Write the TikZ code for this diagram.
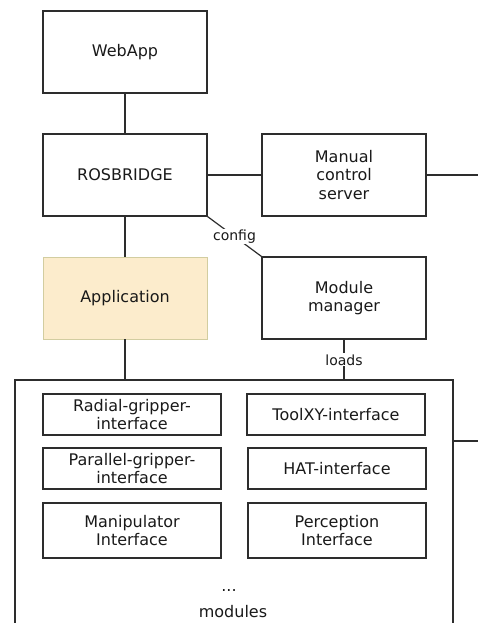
\documentclass[tikz,border=0pt]{standalone}
\usepackage{fontspec}
\setmainfont{DejaVu Sans}
\usepackage{tikz}
\usetikzlibrary{arrows.meta,positioning}
\definecolor{appfill}{RGB}{252,236,204}
\definecolor{appline}{RGB}{210,205,160}
\definecolor{linegray}{RGB}{45,45,45}

\begin{document}
\begin{tikzpicture}[x=1pt, y=-1pt,
    every node/.style={font=\fontsize{16}{18.5}\selectfont, text=black!90},
    box/.style={draw=linegray, line width=1.2pt, minimum width=164pt, minimum height=82pt, align=center},
    iface/.style={draw=linegray, line width=1.2pt, minimum width=178pt, minimum height=41pt, align=center},
    tag/.style={fill=white, inner sep=1pt, font=\fontsize{14}{16}\selectfont},
    wire/.style={draw=linegray, line width=1.2pt}]
            \useasboundingbox (0,0) rectangle (478,623);

            % Top row
            \node[box] (webapp) at (125,52) {WebApp};
            \node[box] (rosbridge) at (125,175) {ROSBRIDGE};
            \node[box] (manual) at (344,175) {Manual\\control\\server};

            % Application and module manager
            \node[box, draw=appline, line width=0.6pt, fill=appfill] (app) at (125,298) {Application};
            \node[box] (manager) at (344,298) {Module\\manager};

            % Modules container (runs off the bottom)
            \coordinate (cont) at (15,380);
            \coordinate (contE) at (453,441);
            \draw[wire] (15,623) -- (cont) -- (453,380) -- (453,623);

            % Interfaces inside the container
            \node[iface] (radial) at (132,414.5) {Radial-gripper-\\interface};
            \node[iface] (toolxy) at (336,414.5) {ToolXY-interface};
            \node[iface] (parallel) at (132,468.5) {Parallel-gripper-\\interface};
            \node[iface] (hat) at (337,468.5) {HAT-interface};
            \node[iface, minimum height=55pt] (manip) at (132,530.5) {Manipulator\\Interface};
            \node[iface, minimum height=55pt] (percep) at (337,530.5) {Perception\\Interface};
            \node (dots) at (229,590) {...};
            \node (modules) at (233,612) {modules};

            % Links
            \draw[wire] (webapp) -- (rosbridge);
            \draw[wire] (rosbridge) -- (manual);
            \draw[wire] (rosbridge) -- (app);
            \draw[wire] (app) -- (app |- cont);
            \draw[wire] (rosbridge.south east) -- node[tag]{config} (manager.north west);
            \draw[wire] (manager) -- node[tag]{loads} (manager |- cont);

            % Links leaving to the right
            \coordinate (eastA) at (478,175);
            \coordinate (eastB) at (478,441);
            \draw[wire] (manual) -- (eastA);
            \draw[wire] (contE) -- (eastB);
        \end{tikzpicture}
\end{document}
